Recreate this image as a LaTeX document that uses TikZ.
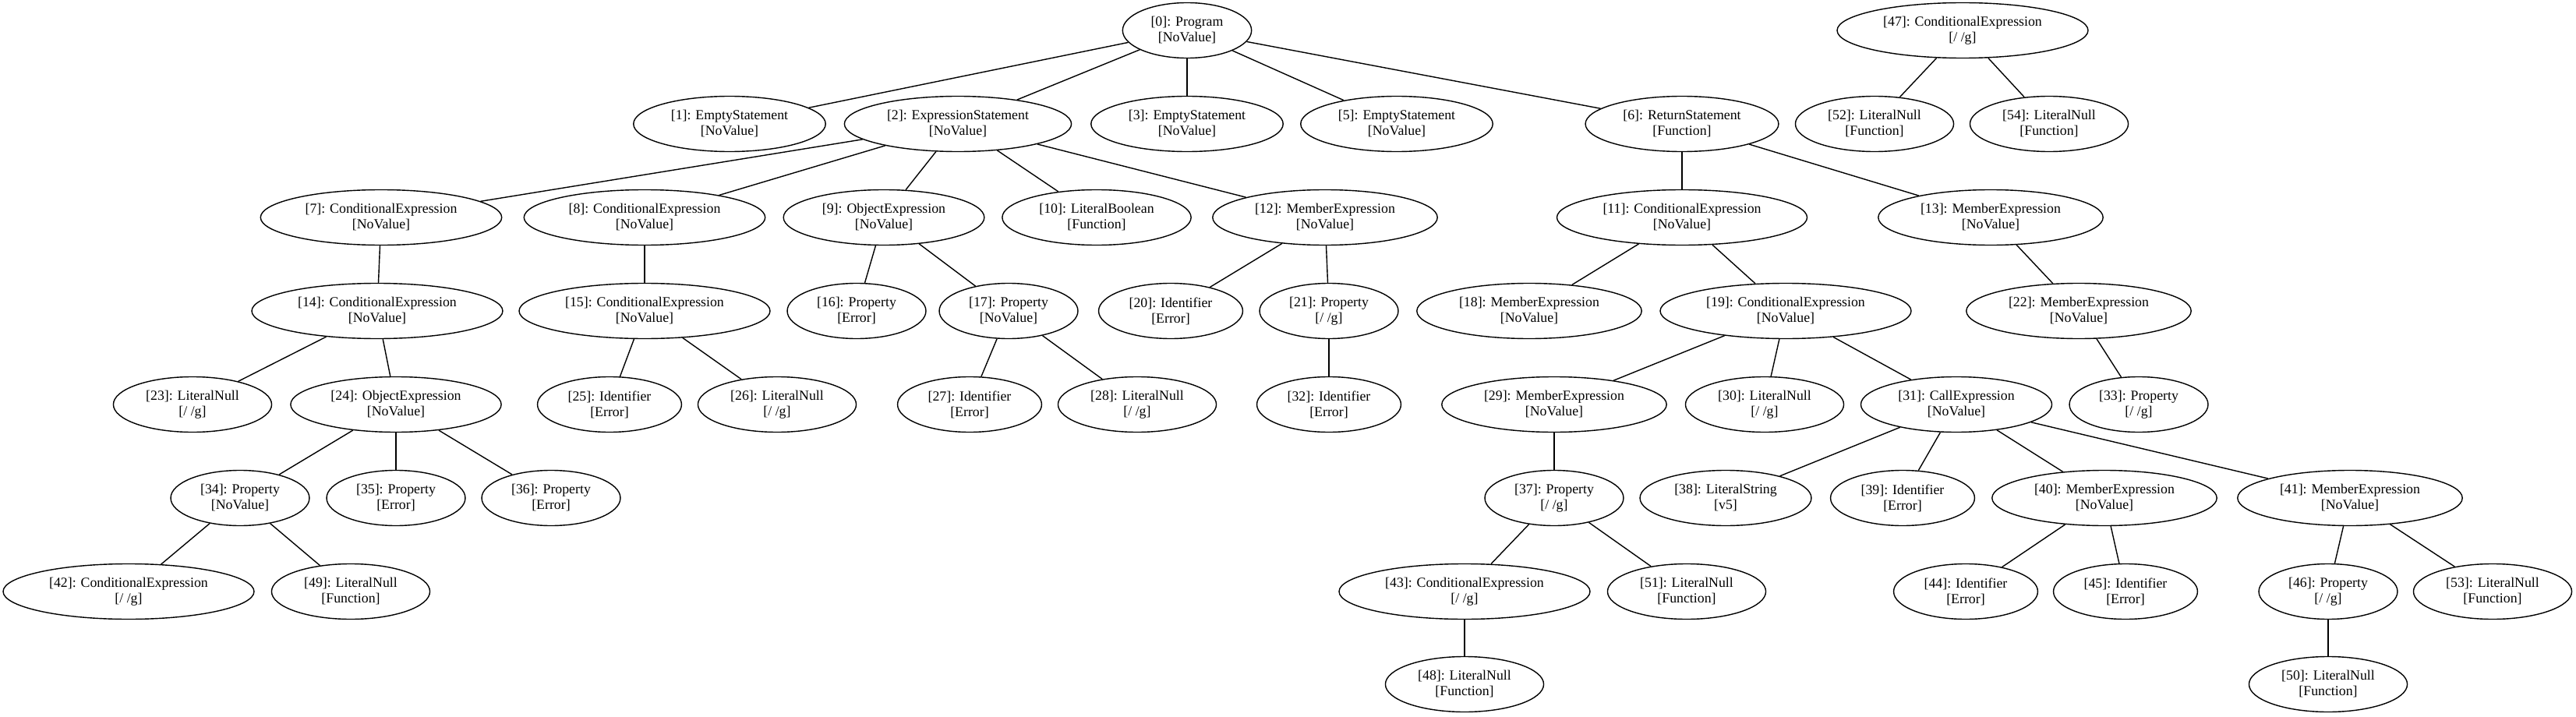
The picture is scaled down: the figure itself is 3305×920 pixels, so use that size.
\documentclass[tikz,border=0pt]{standalone}
\usepackage{fontspec}
\setmainfont{Liberation Serif}
\usetikzlibrary{shapes.geometric}
\newcommand{\lbl}[2]{#1\\{[#2]}}
\tikzset{
  nd/.style={draw, ellipse, line width=0.7pt, align=center, inner xsep=6pt, inner ysep=2pt,
    minimum height=35.5pt, font=\fontsize{8.9}{10}\selectfont},
  ed/.style={line width=0.7pt}
}
\begin{document}
\begin{tikzpicture}[x=0.5pt,y=-0.5pt]
\useasboundingbox (0,0) rectangle (3305,920);
% row 0
\node[nd] (n0) at (1523,39) {\lbl{[0]: Program}{NoValue}};
\node[nd] (n47) at (2518,39) {\lbl{[47]: ConditionalExpression}{/ /g}};
% row 1
\node[nd] (n1) at (936,159) {\lbl{[1]: EmptyStatement}{NoValue}};
\node[nd] (n2) at (1229,159) {\lbl{[2]: ExpressionStatement}{NoValue}};
\node[nd] (n3) at (1523,159) {\lbl{[3]: EmptyStatement}{NoValue}};
\node[nd] (n5) at (1792,159) {\lbl{[5]: EmptyStatement}{NoValue}};
\node[nd] (n6) at (2158,159) {\lbl{[6]: ReturnStatement}{Function}};
\node[nd] (n52) at (2405,159) {\lbl{[52]: LiteralNull}{Function}};
\node[nd] (n54) at (2629,159) {\lbl{[54]: LiteralNull}{Function}};
% row 2
\node[nd] (n7) at (489,279) {\lbl{[7]: ConditionalExpression}{NoValue}};
\node[nd] (n8) at (827,279) {\lbl{[8]: ConditionalExpression}{NoValue}};
\node[nd] (n9) at (1134,279) {\lbl{[9]: ObjectExpression}{NoValue}};
\node[nd] (n10) at (1407,279) {\lbl{[10]: LiteralBoolean}{Function}};
\node[nd] (n12) at (1700,279) {\lbl{[12]: MemberExpression}{NoValue}};
\node[nd] (n11) at (2158,279) {\lbl{[11]: ConditionalExpression}{NoValue}};
\node[nd] (n13) at (2554,279) {\lbl{[13]: MemberExpression}{NoValue}};
% row 3
\node[nd] (n14) at (484,399) {\lbl{[14]: ConditionalExpression}{NoValue}};
\node[nd] (n15) at (827,399) {\lbl{[15]: ConditionalExpression}{NoValue}};
\node[nd] (n16) at (1099,399) {\lbl{[16]: Property}{Error}};
\node[nd] (n17) at (1294,399) {\lbl{[17]: Property}{NoValue}};
\node[nd] (n20) at (1502,399) {\lbl{[20]: Identifier}{Error}};
\node[nd] (n21) at (1705,399) {\lbl{[21]: Property}{/ /g}};
\node[nd] (n18) at (1962,399) {\lbl{[18]: MemberExpression}{NoValue}};
\node[nd] (n19) at (2291,399) {\lbl{[19]: ConditionalExpression}{NoValue}};
\node[nd] (n22) at (2667,399) {\lbl{[22]: MemberExpression}{NoValue}};
% row 4
\node[nd] (n23) at (247,519) {\lbl{[23]: LiteralNull}{/ /g}};
\node[nd] (n24) at (508,519) {\lbl{[24]: ObjectExpression}{NoValue}};
\node[nd] (n25) at (782,519) {\lbl{[25]: Identifier}{Error}};
\node[nd] (n26) at (997,519) {\lbl{[26]: LiteralNull}{/ /g}};
\node[nd] (n27) at (1244,519) {\lbl{[27]: Identifier}{Error}};
\node[nd] (n28) at (1459,519) {\lbl{[28]: LiteralNull}{/ /g}};
\node[nd] (n32) at (1705,519) {\lbl{[32]: Identifier}{Error}};
\node[nd] (n29) at (1994,519) {\lbl{[29]: MemberExpression}{NoValue}};
\node[nd] (n30) at (2264,519) {\lbl{[30]: LiteralNull}{/ /g}};
\node[nd] (n31) at (2510,519) {\lbl{[31]: CallExpression}{NoValue}};
\node[nd] (n33) at (2744,519) {\lbl{[33]: Property}{/ /g}};
% row 5
\node[nd] (n34) at (308,639) {\lbl{[34]: Property}{NoValue}};
\node[nd] (n35) at (508,639) {\lbl{[35]: Property}{Error}};
\node[nd] (n36) at (707,639) {\lbl{[36]: Property}{Error}};
\node[nd] (n37) at (1994,639) {\lbl{[37]: Property}{/ /g}};
\node[nd] (n38) at (2214,639) {\lbl{[38]: LiteralString}{v5}};
\node[nd] (n39) at (2441,639) {\lbl{[39]: Identifier}{Error}};
\node[nd] (n40) at (2700,639) {\lbl{[40]: MemberExpression}{NoValue}};
\node[nd] (n41) at (3015,639) {\lbl{[41]: MemberExpression}{NoValue}};
% row 6
\node[nd] (n42) at (165,759) {\lbl{[42]: ConditionalExpression}{/ /g}};
\node[nd] (n49) at (450,759) {\lbl{[49]: LiteralNull}{Function}};
\node[nd] (n43) at (1879,759) {\lbl{[43]: ConditionalExpression}{/ /g}};
\node[nd] (n51) at (2164,759) {\lbl{[51]: LiteralNull}{Function}};
\node[nd] (n44) at (2522,759) {\lbl{[44]: Identifier}{Error}};
\node[nd] (n45) at (2727,759) {\lbl{[45]: Identifier}{Error}};
\node[nd] (n46) at (2987,759) {\lbl{[46]: Property}{/ /g}};
\node[nd] (n53) at (3198,759) {\lbl{[53]: LiteralNull}{Function}};
% row 7
\node[nd] (n48) at (1879,878) {\lbl{[48]: LiteralNull}{Function}};
\node[nd] (n50) at (2987,878) {\lbl{[50]: LiteralNull}{Function}};
% edges
\draw[ed] (n0) -- (n1);
\draw[ed] (n0) -- (n2);
\draw[ed] (n0) -- (n3);
\draw[ed] (n0) -- (n5);
\draw[ed] (n0) -- (n6);
\draw[ed] (n2) -- (n7);
\draw[ed] (n2) -- (n8);
\draw[ed] (n2) -- (n9);
\draw[ed] (n2) -- (n10);
\draw[ed] (n2) -- (n12);
\draw[ed] (n6) -- (n11);
\draw[ed] (n6) -- (n13);
\draw[ed] (n47) -- (n52);
\draw[ed] (n47) -- (n54);
\draw[ed] (n7) -- (n14);
\draw[ed] (n8) -- (n15);
\draw[ed] (n9) -- (n16);
\draw[ed] (n9) -- (n17);
\draw[ed] (n12) -- (n20);
\draw[ed] (n12) -- (n21);
\draw[ed] (n11) -- (n18);
\draw[ed] (n11) -- (n19);
\draw[ed] (n13) -- (n22);
\draw[ed] (n14) -- (n23);
\draw[ed] (n14) -- (n24);
\draw[ed] (n15) -- (n25);
\draw[ed] (n15) -- (n26);
\draw[ed] (n17) -- (n27);
\draw[ed] (n17) -- (n28);
\draw[ed] (n21) -- (n32);
\draw[ed] (n19) -- (n29);
\draw[ed] (n19) -- (n30);
\draw[ed] (n19) -- (n31);
\draw[ed] (n22) -- (n33);
\draw[ed] (n24) -- (n34);
\draw[ed] (n24) -- (n35);
\draw[ed] (n24) -- (n36);
\draw[ed] (n29) -- (n37);
\draw[ed] (n31) -- (n38);
\draw[ed] (n31) -- (n39);
\draw[ed] (n31) -- (n40);
\draw[ed] (n31) -- (n41);
\draw[ed] (n34) -- (n42);
\draw[ed] (n34) -- (n49);
\draw[ed] (n37) -- (n43);
\draw[ed] (n37) -- (n51);
\draw[ed] (n40) -- (n44);
\draw[ed] (n40) -- (n45);
\draw[ed] (n41) -- (n46);
\draw[ed] (n41) -- (n53);
\draw[ed] (n43) -- (n48);
\draw[ed] (n46) -- (n50);
\end{tikzpicture}
\end{document}
